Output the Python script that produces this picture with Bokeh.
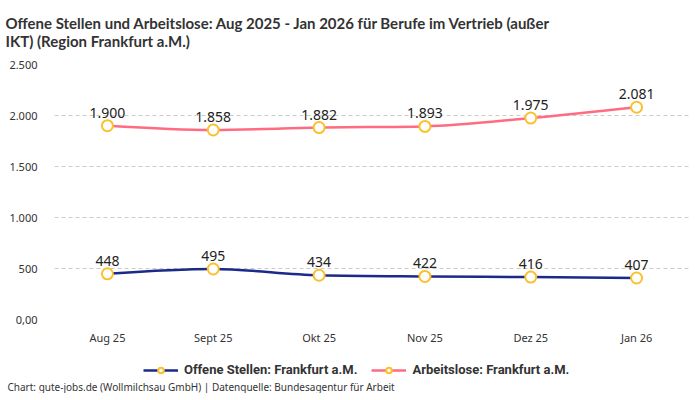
import numpy as np
from bokeh.plotting import figure
from bokeh.layouts import column
from bokeh.models import (Range1d, FixedTicker, Title, Legend, LegendItem,
                          ColumnDataSource, LabelSet)
from bokeh.core.properties import value
from bokeh.embed import file_html
from bokeh.resources import INLINE

months = ["Aug 25", "Sept 25", "Okt 25", "Nov 25", "Dez 25", "Jan 26"]
offene_stellen = [448, 495, 434, 422, 416, 407]
arbeitslose = [1900, 1858, 1882, 1893, 1975, 2081]
y_ticks = [0, 500, 1000, 1500, 2000, 2500]
y_tick_labels = ["0,00", "500", "1.000", "1.500", "2.000", "2.500"]
series_names = ["Offene Stellen: Frankfurt a.M.", "Arbeitslose: Frankfurt a.M."]

TITLE = ("Offene Stellen und Arbeitslose: Aug 2025 - Jan 2026 für Berufe im Vertrieb (außer\n"
         "IKT) (Region Frankfurt a.M.)")
FOOTER = "Chart: gute-jobs.de (Wollmilchsau GmbH) | Datenquelle: Bundesagentur für Arbeit"

NAVY = "#1b2a8a"
PINK = "#ff6b81"
MARKER = "#fbc02d"
FONT = "Noto Sans"
TFONT = "Lato"
LFONT = "Roboto"

xs = list(range(len(months)))


def fmt(v):
    return f"{v:,}".replace(",", ".")


def monotone_segments(x, y):
    x = np.asarray(x, float)
    y = np.asarray(y, float)
    n = len(x)
    h = np.diff(x)
    s = np.diff(y) / h
    t = np.zeros(n)
    for i in range(1, n - 1):
        s0, s1, h0, h1 = s[i - 1], s[i], h[i - 1], h[i]
        p = (s0 * h1 + s1 * h0) / (h0 + h1)
        t[i] = (np.sign(s0) + np.sign(s1)) * min(abs(s0), abs(s1), 0.5 * abs(p))
    t[0] = (3 * s[0] - t[1]) / 2
    t[-1] = (3 * s[-1] - t[-2]) / 2
    return dict(
        x0=list(x[:-1]), y0=list(y[:-1]), x1=list(x[1:]), y1=list(y[1:]),
        cx0=list(x[:-1] + h / 3), cy0=list(y[:-1] + h / 3 * t[:-1]),
        cx1=list(x[1:] - h / 3), cy1=list(y[1:] - h / 3 * t[1:]),
    )


p = figure(frame_width=635, frame_height=255, output_backend="svg", toolbar_location=None,
           x_range=Range1d(-0.5, 5.5), y_range=Range1d(0, 2500),
           min_border_left=54, min_border_right=0, min_border_top=0,
           min_border_bottom=0,
           background_fill_color="white", border_fill_color="white")
p.outline_line_color = None

title = Title(text=TITLE, text_font=TFONT, text_font_size="15px", text_font_style="bold",
              text_color="#333333", align="left", offset=-49, standoff=26,
              vertical_align="top")
p.add_layout(title, "above")

# axes
p.xaxis.ticker = FixedTicker(ticks=xs)
p.xaxis.major_label_overrides = {i: m for i, m in enumerate(months)}
p.yaxis.ticker = FixedTicker(ticks=y_ticks)
p.yaxis.major_label_overrides = {t: l for t, l in zip(y_ticks, y_tick_labels)}
for ax in (p.xaxis[0], p.yaxis[0]):
    ax.axis_line_color = None
    ax.major_tick_line_color = None
    ax.minor_tick_line_color = None
    ax.major_tick_out = 0
    ax.major_tick_in = 0
    ax.major_label_text_font = FONT
    ax.major_label_text_font_size = "11px"
    ax.major_label_text_color = "#333333"
p.yaxis.major_label_standoff = 17
p.xaxis.major_label_standoff = 10
p.xgrid.grid_line_color = None
p.ygrid.grid_line_color = "#cccccc"
p.ygrid.grid_line_dash = "4 3"
p.ygrid.ticker = FixedTicker(ticks=y_ticks)

for vals, col in ((offene_stellen, NAVY), (arbeitslose, PINK)):
    seg = monotone_segments(xs, vals)
    p.bezier(source=ColumnDataSource(seg), x0="x0", y0="y0", x1="x1", y1="y1",
             cx0="cx0", cy0="cy0", cx1="cx1", cy1="cy1", line_color=col, line_width=2.5)
    src = ColumnDataSource(dict(x=xs, y=vals, lab=[fmt(v) for v in vals]))
    p.scatter("x", "y", source=src, size=11, fill_color="white",
              line_color=MARKER, line_width=2)
    p.add_layout(LabelSet(x="x", y="y", text="lab", source=src, y_offset=8,
                          text_align="center", text_baseline="bottom",
                          text_font=value(FONT), text_font_size="14px",
                          text_color="#222222"))

# legend + footer strip
q = figure(frame_width=635, height=46, output_backend="svg", toolbar_location=None,
           x_range=Range1d(0, 635), y_range=Range1d(0, 30),
           min_border_left=54, min_border_right=0, min_border_top=0, min_border_bottom=0,
           background_fill_color="white", border_fill_color="white")
q.outline_line_color = None
q.axis.visible = False
q.grid.visible = False

items = []
nan = float("nan")
for name, col in zip(series_names, (NAVY, PINK)):
    ln = q.line(x=[nan, nan], y=[nan, nan], line_color=col, line_width=2.5)
    sc = q.scatter(x=[nan], y=[nan], size=11, fill_color="white", line_color=MARKER,
                   line_width=2)
    items.append(LegendItem(label=name, renderers=[ln, sc]))

legend = Legend(items=items, orientation="horizontal", location=(89, 0),
                label_text_font=LFONT, label_text_font_style="bold", label_text_font_size="13px",
                label_text_color="#333333", glyph_width=35, glyph_height=14, label_standoff=6,
                spacing=14, border_line_color=None, background_fill_alpha=0,
                padding=2, margin=0)
q.add_layout(legend, "center")

footer = Title(text=FOOTER, text_font=FONT, text_font_size="10px", text_font_style="normal",
               text_color="#333333", align="left", offset=-47, standoff=0)
q.add_layout(footer, "below")

layout = column(p, q, spacing=0)
open("out.html", "w").write(file_html(layout, INLINE))
